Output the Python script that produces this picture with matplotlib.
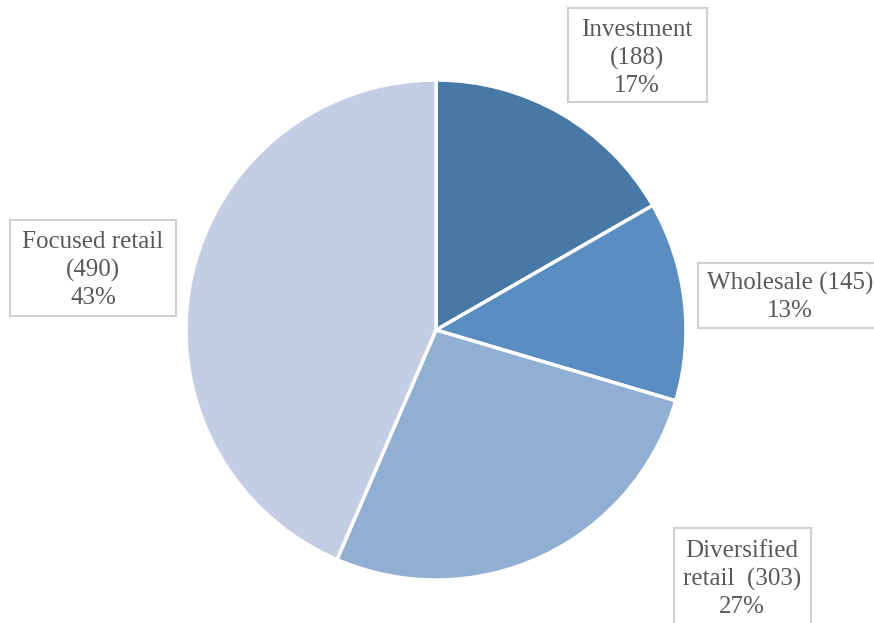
import numpy as np
import matplotlib.pyplot as plt
from matplotlib.patches import Rectangle

# segment counts and the shares printed in the labels
labels = ['Investment', 'Wholesale', 'Diversified\nretail ', 'Focused retail']
counts = [188, 145, 303, 490]
shares = [17, 13, 27, 43]
colors = ['#4878a6', '#5a8dc2', '#91aed3', '#c3cde3']

# how each label box is written (name and count on one line or not)
join = ['\n', ' ', ' ', '\n']

W, H = 874, 623
fig = plt.figure(figsize=(W / 100, H / 100), dpi=100)
ax = fig.add_axes([0, 0, 1, 1])

ax.pie(counts, colors=colors, startangle=90, counterclock=False,
       center=(436, H - 330), radius=250,
       wedgeprops=dict(edgecolor='white', linewidth=2.5))

# pie() resets the limits, so set them afterwards
ax.set_xlim(0, W)
ax.set_ylim(0, H)
ax.set_aspect('equal')
ax.axis('off')

# label boxes: left, top, right, bottom in pixels
boxes = [(568, 8, 707, 102), (698, 263, 880, 328),
         (674, 528, 811, 630), (10, 220, 176, 316)]
text_pos = [(637, 58), (790, 297), (742, 579), (93, 270)]

for lab, c, p, j, b, tp in zip(labels, counts, shares, join, boxes, text_pos):
    x0, y0, x1, y1 = b
    ax.add_patch(Rectangle((x0, H - y1), x1 - x0, y1 - y0, facecolor='white',
                           edgecolor='#d0d0d0', linewidth=1.5, clip_on=False))
    txt = f'{lab}{j}({c})\n{p}%'
    ax.text(tp[0], H - tp[1], txt, ha='center', va='center',
            fontsize=18, family='Liberation Serif', color='#595959',
            linespacing=1.32)

plt.savefig('out.png', dpi=100)
